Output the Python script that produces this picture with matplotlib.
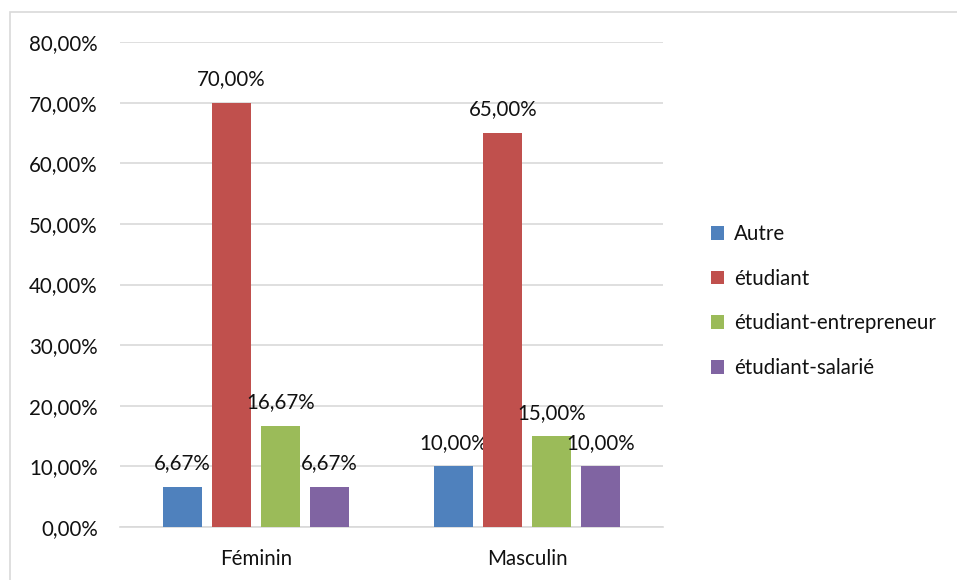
import numpy as np
import matplotlib.pyplot as plt
from matplotlib.patches import Rectangle

plt.rcParams['font.family'] = ['Lato', 'DejaVu Sans']

categories = ['Féminin', 'Masculin']
series = ['Autre', 'étudiant', 'étudiant-entrepreneur', 'étudiant-salarié']
values = {
  'Autre': [6.67, 10.00],
  'étudiant': [70.00, 65.00],
  'étudiant-entrepreneur': [16.67, 15.00],
  'étudiant-salarié': [6.67, 10.00],
}
colors = ['#4F81BD', '#C0504D', '#9BBB59', '#8064A2']

fs = 14.8
fig = plt.figure(figsize=(9.57, 5.80), dpi=100)
ax = fig.add_axes([120/957, 1-527/580, 543/957, 485/580])

# ramcek okolo grafu
fig.patches.append(Rectangle((10/957, -0.1), 1.2, 1.1-12/580, transform=fig.transFigure,
                             fill=False, edgecolor='#D9D9D9', linewidth=1.2))

x = np.arange(len(categories))
w = 39/271.5
step = 49/271.5
for i, s in enumerate(series):
  pos = x + (i-1.5)*step
  bars = ax.bar(pos, values[s], width=w, color=colors[i], label=s, zorder=3)
  for p, v in zip(pos, values[s]):
    ax.annotate('{:.2f}%'.format(v).replace('.', ','), (p, v), xytext=(0, 12.5),
                textcoords='offset points', ha='center', va='baseline', fontsize=fs, color='#111111')

ax.set_xlim(-0.5, 1.5)
ax.set_ylim(0, 80)
ax.set_yticks(np.arange(0, 81, 10))
ax.set_yticklabels(['{:.2f}%'.format(t).replace('.', ',') for t in np.arange(0, 81, 10)])
ax.set_xticks(x)
ax.set_xticklabels(categories)
ax.tick_params(axis='both', length=0, labelsize=fs, colors='#111111')
ax.tick_params(axis='y', pad=16)
ax.tick_params(axis='x', pad=16)
ax.grid(axis='y', color='#D9D9D9', linewidth=1.2, zorder=0)
for sp in ['left', 'right', 'top']:
  ax.spines[sp].set_visible(False)
ax.spines['bottom'].set_color('#D9D9D9')
ax.spines['bottom'].set_linewidth(1.2)

fig.legend(loc='center left', bbox_to_anchor=(692/957, 1-301/580), frameon=False,
           fontsize=fs, handlelength=0.65, handleheight=0.65, handletextpad=0.5,
           labelspacing=1.2, labelcolor='#111111')

plt.savefig('out.png', dpi=100)
